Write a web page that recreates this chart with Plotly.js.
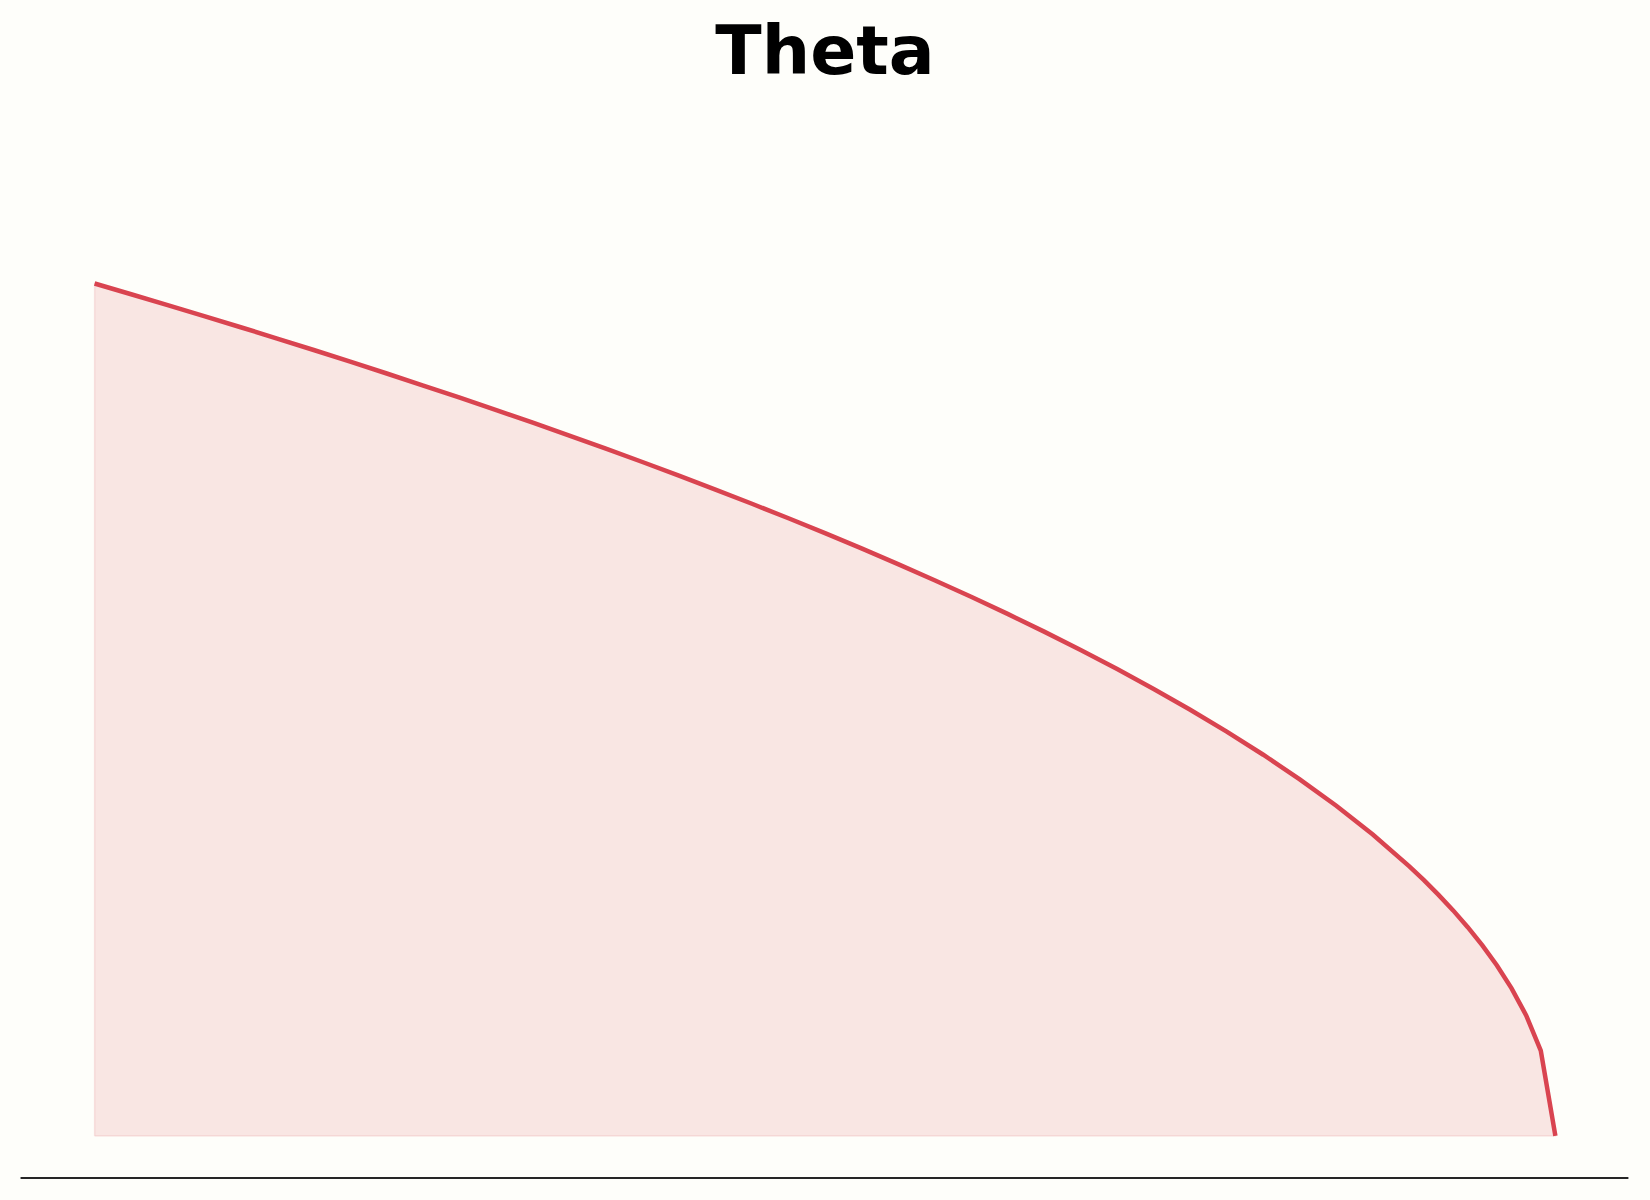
<!DOCTYPE html>
<html>
<head>
<meta charset="utf-8">
<script src="https://cdn.plot.ly/plotly-3.0.1.min.js"></script>
<style>
  body { margin: 0; background: #fefefa; }
  #plot { width: 1650px; height: 1200px; }
</style>
</head>
<body>
<div id="plot"></div>
<script>
// values
var theta = [0, 0.025, 0.05, 0.075, 0.1, 0.125, 0.15, 0.175, 0.2, 0.225, 0.25, 0.275, 0.3, 0.325,
             0.35, 0.375, 0.4, 0.425, 0.45, 0.475, 0.5, 0.525, 0.55, 0.575, 0.6, 0.625, 0.65, 0.675,
             0.7, 0.725, 0.75, 0.775, 0.8, 0.825, 0.85, 0.875, 0.9, 0.91, 0.92, 0.93, 0.94, 0.95,
             0.96, 0.97, 0.98, 0.99, 1.0];
var density = [1.0, 0.9874, 0.9747, 0.9618, 0.9487, 0.9354, 0.9220, 0.9083, 0.8944, 0.8803, 0.8660, 0.8515,
               0.8367, 0.8216, 0.8062, 0.7906, 0.7746, 0.7583, 0.7416, 0.7246, 0.7071, 0.6892, 0.6708, 0.6519,
               0.6325, 0.6124, 0.5916, 0.5701, 0.5477, 0.5244, 0.5000, 0.4743, 0.4472, 0.4183, 0.3873, 0.3536,
               0.3162, 0.3000, 0.2828, 0.2646, 0.2449, 0.2236, 0.2000, 0.1732, 0.1414, 0.1000, 0.0];
var chartTitle = 'Theta';

var lineColor = 'rgb(217,68,80)';

// closed area under the curve, with the faint edge matplotlib-style
var areaX = [theta[0]].concat(theta, [theta[theta.length - 1], theta[0]]);
var areaY = [0].concat(density, [0, 0]);

var area = {
    x: areaX, y: areaY,
    mode: 'lines',
    fill: 'toself',
    fillcolor: 'rgba(217,68,80,0.13)',
    line: {color: 'rgba(217,68,80,0.12)', width: 1.5, simplify: false},
    hoverinfo: 'skip',
    type: 'scatter'
};

var curve = {
    x: theta, y: density,
    mode: 'lines',
    line: {color: lineColor, width: 4.5, simplify: false},
    type: 'scatter'
};

var layout = {
    width: 1650,
    height: 1200,
    paper_bgcolor: '#fefefa',
    plot_bgcolor: '#fefefa',
    showlegend: false,
    title: {
        text: '<b>' + chartTitle + '</b>',
        font: {family: 'DejaVu Sans', size: 68, color: '#000000'},
        x: 0.5, xref: 'container', xanchor: 'center',
        y: 0.958, yref: 'container', yanchor: 'middle'
    },
    // small padding around the data so the thick line ends are not clipped
    xaxis: {visible: false, range: [-0.01, 1.01], fixedrange: true},
    yaxis: {visible: false, range: [-0.02, 1.1566], fixedrange: true},
    margin: {l: 80.4, r: 80.4, t: 150, b: 46.95},
    shapes: [{
        type: 'line', xref: 'paper', yref: 'paper',
        x0: -0.0399, x1: 1.0392, y0: -0.0249, y1: -0.0249,
        line: {color: '#262626', width: 2}
    }]
};

Plotly.newPlot('plot', [area, curve], layout, {displayModeBar: false, staticPlot: true});
</script>
</body>
</html>
